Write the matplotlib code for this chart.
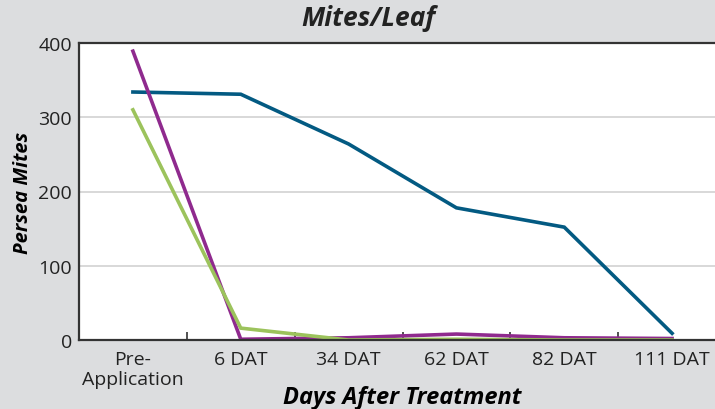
"""Persea mites per leaf after treatment."""

import matplotlib
import matplotlib.pyplot as plt
import numpy as np

matplotlib.use("Agg")

categories = ["Pre-\nApplication", "6 DAT", "34 DAT", "62 DAT", "82 DAT", "111 DAT"]
blue_vals = [334, 331, 264, 178, 152, 9]
purple_vals = [389, 1, 3, 8, 3, 2]
green_vals = [310, 16, 0, 1, 0, 0]
y_ticks = [0, 100, 200, 300, 400]

BG = "#dcdddf"
FONT = "Open Sans"

fig = plt.figure(figsize=(7.15, 4.1), dpi=100, facecolor=BG)
ax = fig.add_axes([79 / 715, 1 - 341 / 410, 647 / 715, 297 / 410])
ax.set_facecolor("white")

x = np.arange(len(categories))
ax.plot(x, blue_vals, color="#035a82", lw=2.6, solid_joinstyle="miter")
ax.plot(x, purple_vals, color="#8f2a8e", lw=2.6, solid_joinstyle="miter")
ax.plot(x, green_vals, color="#9cc35c", lw=2.6, solid_joinstyle="miter")

ax.set_xlim(-0.5, len(categories) - 0.5)
ax.set_ylim(0, 400)
ax.set_yticks(y_ticks)
ax.set_yticklabels([str(v) for v in y_ticks], fontsize=14, family=FONT, color="#222222")
ax.tick_params(axis="y", length=0, pad=5)
ax.yaxis.grid(True, color="#d2d2d2", lw=1.2)
ax.set_axisbelow(True)

ax.set_xticks(x)
ax.set_xticklabels(categories, fontsize=14, family=FONT, color="#222222", linespacing=1.15)
ax.tick_params(axis="x", which="major", length=0, pad=7)
ax.set_xticks(np.arange(0.5, len(categories) - 0.5), minor=True)
ax.tick_params(axis="x", which="minor", direction="in", length=6, width=1.2, color="#333333")

for side in ["left", "bottom", "top"]:
    ax.spines[side].set_color("#333333")
    ax.spines[side].set_linewidth(1.6)
ax.spines["right"].set_visible(False)

ax.set_ylabel("Persea Mites", fontsize=14.5, family=FONT, weight="bold", style="italic", labelpad=4)
ax.set_xlabel("Days After Treatment", fontsize=17, family=FONT, weight="bold", style="italic", labelpad=-2)
fig.text(368 / 715, 1 - 19 / 410, "Mites/Leaf", fontsize=19, family=FONT, weight="bold",
         style="italic", ha="center", va="center", color="#222222")

fig.savefig("out.png", dpi=100, facecolor=BG)
